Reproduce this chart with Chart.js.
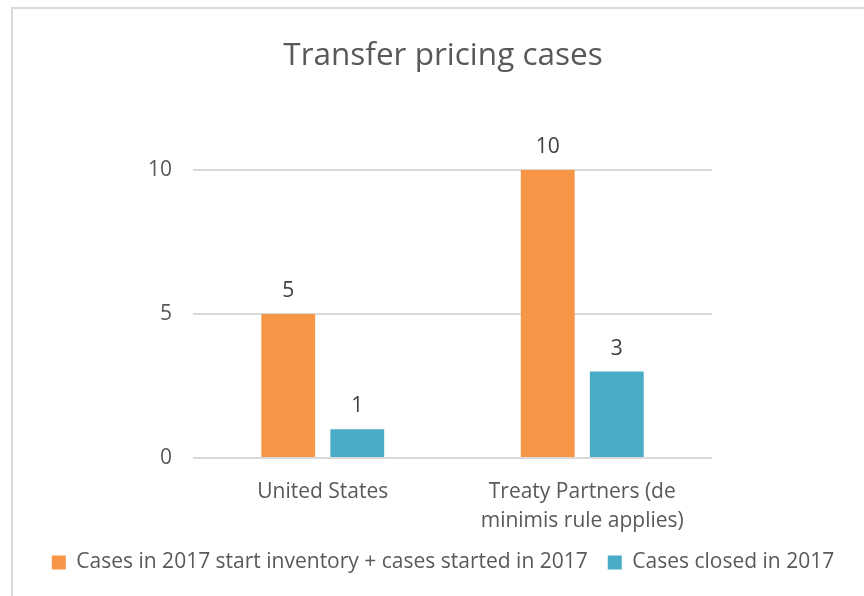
<!DOCTYPE html>
<html>
<head>
<meta charset="utf-8">
<title>Transfer pricing cases</title>
<script src="https://cdn.jsdelivr.net/npm/chart.js@4.4.1/dist/chart.umd.min.js"></script>
<style>
  html, body { margin: 0; padding: 0; background: #fff; overflow: hidden; }
  #wrap { position: relative; width: 864px; height: 596px; }
  #frame {
    position: absolute; left: 11px; top: 7px; width: 900px; height: 700px;
    border-left: 2px solid #d9d9d9; border-top: 2px solid #d9d9d9;
  }
  canvas { position: absolute; left: 0; top: 0; }
</style>
</head>
<body>
<div id="wrap">
  <div id="frame"></div>
  <canvas id="casesChart" width="864" height="596"></canvas>
</div>
<script>
/* ================================
   Data
================================ */
const categories = [
  "United States",
  ["Treaty Partners (de", "minimis rule applies)"]
];
const seriesNames = [
  "Cases in 2017 start inventory + cases started in 2017",
  "Cases closed in 2017"
];
const startedCases = [5, 10];
const closedCases = [1, 3];
const yTicks = [0, 5, 10];

const TEXT = "#595959";
const FONT = "'Open Sans', 'Noto Sans', sans-serif";

/* ================================
   Value labels above bars
================================ */
const valueLabels = {
  id: "valueLabels",
  afterDatasetsDraw(chart) {
    const { ctx } = chart;
    ctx.save();
    ctx.font = `21px ${FONT}`;
    ctx.fillStyle = "#404040";
    ctx.textAlign = "center";
    ctx.textBaseline = "middle";
    chart.data.datasets.forEach((ds, i) => {
      chart.getDatasetMeta(i).data.forEach((bar, j) => {
        ctx.fillText(String(ds.data[j]), bar.x, bar.y - 23);
      });
    });
    ctx.restore();
  }
};

/* ================================
   Render Chart
================================ */
new Chart(document.getElementById("casesChart"), {
  type: "bar",
  data: {
    labels: categories,
    datasets: [
      {
        label: seriesNames[0],
        data: startedCases,
        backgroundColor: "#f79646",
        yAxisID: "y"
      },
      {
        label: seriesNames[1],
        data: closedCases,
        backgroundColor: "#4bacc6",
        yAxisID: "y"
      }
    ]
  },
  options: {
    responsive: false,
    animation: false,
    categoryPercentage: 0.532,
    barPercentage: 0.78,
    layout: { padding: { left: 22, right: 0, top: 0, bottom: 13 } },
    plugins: {
      title: {
        display: true,
        text: "Transfer pricing cases",
        color: TEXT,
        font: { family: FONT, size: 31.5, weight: "normal", lineHeight: 1.2 },
        padding: { top: 37, bottom: 95 }
      },
      legend: {
        position: "bottom",
        labels: {
          color: TEXT,
          font: { family: FONT, size: 21 },
          boxWidth: 14,
          boxHeight: 14,
          padding: 20
        }
      },
      tooltip: { enabled: false }
    },
    scales: {
      x: {
        grid: { display: false },
        border: { display: false },
        ticks: {
          color: TEXT,
          font: { family: FONT, size: 21, lineHeight: 1.38 },
          padding: 12,
          autoSkip: false
        },
        afterFit(scale) { scale.height = 74; }
      },
      y: {
        min: 0,
        max: 10,
        afterBuildTicks(scale) {
          scale.ticks = yTicks.map(v => ({ value: v }));
        },
        grid: { color: "#d9d9d9", lineWidth: 2, drawTicks: false },
        border: { display: false },
        ticks: {
          color: TEXT,
          font: { family: FONT, size: 21 },
          padding: 21
        },
        afterFit(scale) { scale.width = 171; }
      },
      yRight: {
        position: "right",
        display: true,
        min: 0,
        max: 10,
        grid: { display: false },
        border: { display: false },
        ticks: { display: false },
        afterFit(scale) { scale.width = 152; }
      }
    }
  },
  plugins: [valueLabels]
});
</script>
</body>
</html>
